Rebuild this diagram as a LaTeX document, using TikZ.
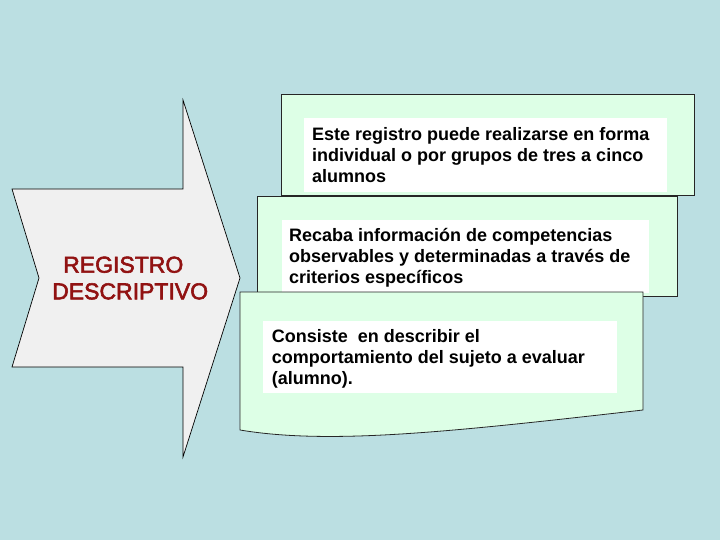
\documentclass[tikz,border=0pt]{standalone}
\usepackage{fontspec}
\setmainfont{Liberation Sans}
\newfontfamily\titlefont[FakeBold=2.5]{Liberation Sans}
\definecolor{bgblue}{RGB}{187,223,226}
\definecolor{arrowgray}{RGB}{240,240,240}
\definecolor{boxgreen}{RGB}{221,255,230}
\definecolor{titlered}{RGB}{145,18,18}
\tikzset{
  boxline/.style={draw=black!85, line width=0.8pt, fill=boxgreen},
  whitebox/.style={draw=none, fill=white, inner sep=0pt, anchor=north west},
  linetext/.style={anchor=base west, inner sep=0pt, font=\fontsize{18}{21}\selectfont\bfseries},
  titletext/.style={anchor=base west, inner sep=0pt, text=titlered, font=\titlefont\fontsize{23}{26}\selectfont}
}
\begin{document}
\begin{tikzpicture}[x=1pt,y=-1pt]
\fill[bgblue] (0,0) rectangle (720,540);
\useasboundingbox (0,0) rectangle (720,540);
% big arrow
\draw[fill=arrowgray, draw=black, line width=0.7pt]
  (12,189) -- (183,189) -- (183,100) -- (240,278) -- (183,457) -- (183,367) -- (12,367) -- (39,278) -- cycle;
\node[titletext] (r1) at (63,272.7) {REGISTRO};
\node[titletext] (r2) at (52,299.3) {DESCRIPTIVO};
% box 1
\draw[boxline] (281,94) rectangle (694,195);
\node[whitebox, minimum width=363pt, minimum height=74pt] (w1) at (304,118) {};
\node[linetext] (t1a) at (312,141) {Este registro puede realizarse en forma};
\node[linetext] (t1b) at (312,161.7) {individual o por grupos de tres a cinco};
\node[linetext] (t1c) at (312,182.4) {alumnos};
% box 2
\draw[boxline] (257,196) rectangle (677,296);
\node[whitebox, minimum width=367pt, minimum height=73pt] (w2) at (282,220) {};
\node[linetext] (t2a) at (289,241.7) {Recaba información de competencias};
\node[linetext] (t2b) at (289,262.7) {observables y determinadas a través de};
\node[linetext] (t2c) at (289,283.7) {criterios específicos};
% box 3 (document shape)
\draw[boxline] (240,292) -- (643,292) -- (643,410)
  .. controls (450,432) and (330,445) .. (240,430) -- cycle;
\node[whitebox, minimum width=354pt, minimum height=72pt] (w3) at (263,321) {};
\node[linetext] (t3a) at (271.7,342.3) {Consiste\ \ en describir el};
\node[linetext] (t3b) at (271.7,363.3) {comportamiento del sujeto a evaluar};
\node[linetext] (t3c) at (271.7,384.3) {(alumno).};
\end{tikzpicture}
\end{document}
